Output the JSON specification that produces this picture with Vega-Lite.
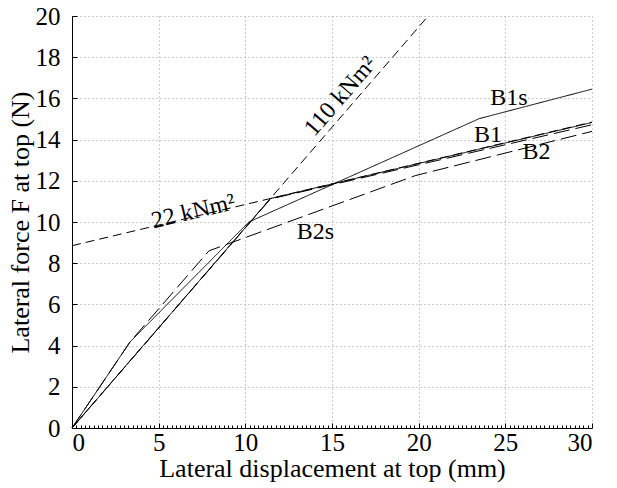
{
  "$schema": "https://vega.github.io/schema/vega-lite/v6.json",
  "width": 520,
  "height": 412,
  "autosize": "none",
  "padding": {"left": 72, "top": 16, "right": 25, "bottom": 60},
  "background": "white",
  "config": {
    "view": {"stroke": null},
    "font": "Liberation Serif",
    "axis": {
      "labelFont": "Liberation Serif",
      "titleFont": "Liberation Serif",
      "labelFontSize": 25,
      "titleFontSize": 26,
      "titleFontWeight": "normal",
      "labelColor": "black",
      "titleColor": "black",
      "domainColor": "black",
      "tickColor": "black",
      "gridColor": "#999999",
      "gridDash": [1, 3],
      "gridOpacity": 1
    }
  },
  "datasets": {
    "curves": [
      {"series": "B1s", "x": 0, "y": 0},
      {"series": "B1s", "x": 3.35, "y": 4.18},
      {"series": "B1s", "x": 10.2, "y": 10.0},
      {"series": "B1s", "x": 23.5, "y": 15.02},
      {"series": "B1s", "x": 30, "y": 16.45},
      {"series": "B2s", "x": 0, "y": 0},
      {"series": "B2s", "x": 3.35, "y": 4.18},
      {"series": "B2s", "x": 7.9, "y": 8.6},
      {"series": "B2s", "x": 19.8, "y": 12.25},
      {"series": "B2s", "x": 30, "y": 14.4},
      {"series": "B1", "x": 0, "y": 0},
      {"series": "B1", "x": 11.45, "y": 11.14},
      {"series": "B1", "x": 30, "y": 14.83},
      {"series": "B2", "x": 0, "y": 0},
      {"series": "B2", "x": 11.45, "y": 11.12},
      {"series": "B2", "x": 30, "y": 14.72},
      {"series": "110 kNm²", "x": 0, "y": 0},
      {"series": "110 kNm²", "x": 20.55, "y": 20},
      {"series": "22 kNm²", "x": 0, "y": 8.85},
      {"series": "22 kNm²", "x": 30, "y": 14.85}
    ],
    "labels": [
      {"label": "B1s", "x": 25.2, "y": 16.0},
      {"label": "B1", "x": 24.0, "y": 14.22},
      {"label": "B2", "x": 26.8, "y": 13.4},
      {"label": "B2s", "x": 14.04, "y": 9.52}
    ],
    "label110": [{"label": "110 kNm²", "x": 15.5, "y": 16.1}],
    "label22": [{"label": "22 kNm²", "x": 7.0, "y": 10.5}]
  },
  "layer": [
    {
      "data": {"name": "curves"},
      "mark": {"type": "line", "strokeWidth": 1, "color": "black"},
      "encoding": {
        "x": {
          "field": "x", "type": "quantitative",
          "scale": {"domain": [0, 30], "nice": false, "zero": false},
          "axis": {
            "values": [0, 5, 10, 15, 20, 25, 30],
            "grid": true,
            "tickSize": -5,
            "labelPadding": 7,
            "title": "Lateral displacement at top (mm)",
            "titlePadding": 0
          }
        },
        "y": {
          "field": "y", "type": "quantitative",
          "scale": {"domain": [0, 20], "nice": false, "zero": false},
          "axis": {
            "values": [0, 2, 4, 6, 8, 10, 12, 14, 16, 18, 20],
            "grid": true,
            "tickSize": -5,
            "labelPadding": 17,
            "title": "Lateral force F at top (N)",
            "titlePadding": 2
          }
        },
        "detail": {"field": "series"},
        "strokeDash": {
          "field": "series", "type": "nominal", "legend": null,
          "scale": {
            "domain": ["B1s", "B1", "B2", "B2s", "110 kNm²", "22 kNm²"],
            "range": [[1, 0], [1, 0], [16, 6], [16, 6], [9, 5], [9, 5]]
          }
        }
      }
    },
    {
      "data": {"name": "labels"},
      "mark": {"type": "text", "fontSize": 24, "font": "Liberation Serif", "color": "black", "align": "center", "baseline": "middle"},
      "encoding": {
        "x": {
          "field": "x", "type": "quantitative",
          "axis": {
            "orient": "bottom",
            "values": [0.25,0.5,0.75,1,1.25,1.5,1.75,2,2.25,2.5,2.75,3,3.25,3.5,3.75,4,4.25,4.5,4.75,5.25,5.5,5.75,6,6.25,6.5,6.75,7,7.25,7.5,7.75,8,8.25,8.5,8.75,9,9.25,9.5,9.75,10.25,10.5,10.75,11,11.25,11.5,11.75,12,12.25,12.5,12.75,13,13.25,13.5,13.75,14,14.25,14.5,14.75,15.25,15.5,15.75,16,16.25,16.5,16.75,17,17.25,17.5,17.75,18,18.25,18.5,18.75,19,19.25,19.5,19.75,20.25,20.5,20.75,21,21.25,21.5,21.75,22,22.25,22.5,22.75,23,23.25,23.5,23.75,24,24.25,24.5,24.75,25.25,25.5,25.75,26,26.25,26.5,26.75,27,27.25,27.5,27.75,28,28.25,28.5,28.75,29,29.25,29.5,29.75],
            "labels": false,
            "domain": false,
            "grid": false,
            "tickSize": -3,
            "title": null
          }
        },
        "y": {"field": "y", "type": "quantitative"},
        "text": {"field": "label"}
      }
    },
    {
      "data": {"name": "label110"},
      "mark": {"type": "text", "fontSize": 24, "font": "Liberation Serif", "color": "black", "align": "center", "baseline": "middle", "angle": -49},
      "encoding": {
        "x": {"field": "x", "type": "quantitative", "axis": null},
        "y": {"field": "y", "type": "quantitative"},
        "text": {"field": "label"}
      }
    },
    {
      "data": {"name": "label22"},
      "mark": {"type": "text", "fontSize": 24, "font": "Liberation Serif", "color": "black", "align": "center", "baseline": "middle", "angle": -13.4},
      "encoding": {
        "x": {"field": "x", "type": "quantitative", "axis": null},
        "y": {"field": "y", "type": "quantitative"},
        "text": {"field": "label"}
      }
    }
  ],
  "resolve": {"axis": {"x": "independent"}}
}
